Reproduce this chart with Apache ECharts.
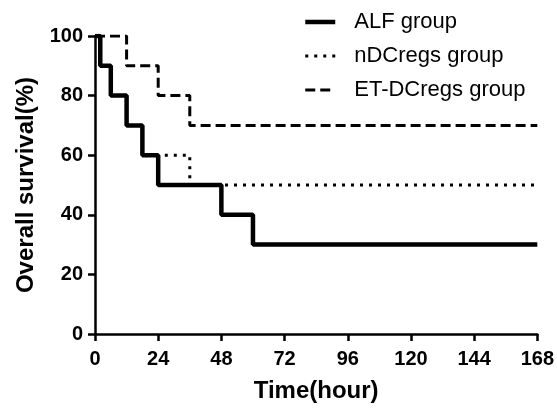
<!DOCTYPE html>
<html>
<head>
<meta charset="utf-8">
<script src="https://cdn.jsdelivr.net/npm/echarts@6/dist/echarts.min.js"></script>
<style>html,body{margin:0;padding:0;background:#fff}#c{width:557px;height:408px}</style>
</head>
<body>
<div id="c"></div>
<script>
const seriesNames = ['ALF group', 'nDCregs group', 'ET-DCregs group'];
const alfTimes = [0, 2, 6, 12, 18, 24, 48, 60, 168];
const alfSurvival = [100, 90, 80, 70, 60, 50, 40, 30, 30];
const ndcTimes = [0, 2, 6, 12, 18, 36, 168];
const ndcSurvival = [100, 90, 80, 70, 60, 50, 50];
const etTimes = [0, 12, 24, 36, 168];
const etSurvival = [100, 90, 80, 70, 70];
const xTicks = [0, 24, 48, 72, 96, 120, 144, 168];
const yTicks = [0, 20, 40, 60, 80, 100];

const pair = (t, v) => t.map((x, i) => [x, v[i]]);
const FONT = "'Liberation Sans', Arial, sans-serif";

const lineStyles = [
  { color: '#000', width: 4.5, type: 'solid' },
  { color: '#000', width: 3, type: [3, 6], cap: 'butt' },
  { color: '#000', width: 3, type: [10, 5], cap: 'butt' }
];

const chart = echarts.init(document.getElementById('c'));
chart.setOption({
  animation: false,
  backgroundColor: '#fff',
  grid: { left: 95, right: 19, top: 36, bottom: 72, containLabel: false },
  legend: {
    orient: 'vertical',
    left: 303,
    top: 10,
    padding: 0,
    itemWidth: 30,
    itemHeight: 14,
    itemGap: 10,
    data: seriesNames.map((n, i) => ({ name: n, lineStyle: lineStyles[i] })),
    itemStyle: { opacity: 0 },
    textStyle: { fontFamily: FONT, fontSize: 22, color: '#000', lineHeight: 24, padding: [0, 0, 0, 14] }
  },
  xAxis: {
    type: 'value',
    min: xTicks[0],
    max: xTicks[xTicks.length - 1],
    interval: 24,
    name: 'Time(hour)',
    nameLocation: 'middle',
    nameGap: 45,
    nameTextStyle: { fontFamily: FONT, fontSize: 24, fontWeight: 'bold', color: '#000' },
    axisLine: { show: true, onZero: false, lineStyle: { color: '#000', width: 2.5 } },
    axisTick: { show: true, length: 7, lineStyle: { color: '#000', width: 2.5 } },
    axisLabel: { margin: 15, fontFamily: FONT, fontSize: 20, fontWeight: 'bold', color: '#000' },
    splitLine: { show: false }
  },
  yAxis: {
    type: 'value',
    min: yTicks[0],
    max: yTicks[yTicks.length - 1],
    interval: 20,
    name: 'Overall survival(%)',
    nameLocation: 'middle',
    nameGap: 54,
    nameTextStyle: { fontFamily: FONT, fontSize: 24, fontWeight: 'bold', color: '#000' },
    axisLine: { show: true, onZero: false, lineStyle: { color: '#000', width: 2.5 } },
    axisTick: { show: true, length: 7, lineStyle: { color: '#000', width: 2.5 } },
    axisLabel: { margin: 12, fontFamily: FONT, fontSize: 20, fontWeight: 'bold', color: '#000' },
    splitLine: { show: false }
  },
  series: [
    {
      name: seriesNames[1], type: 'line', step: 'end', symbol: 'none', z: 2,
      data: pair(ndcTimes, ndcSurvival),
      lineStyle: lineStyles[1],
      itemStyle: { color: '#000' }
    },
    {
      name: seriesNames[2], type: 'line', step: 'end', symbol: 'none', z: 3,
      data: pair(etTimes, etSurvival),
      lineStyle: lineStyles[2],
      itemStyle: { color: '#000' }
    },
    {
      name: seriesNames[0], type: 'line', step: 'end', symbol: 'none', z: 4,
      data: pair(alfTimes, alfSurvival),
      lineStyle: lineStyles[0],
      itemStyle: { color: '#000' }
    }
  ]
});
</script>
</body>
</html>
